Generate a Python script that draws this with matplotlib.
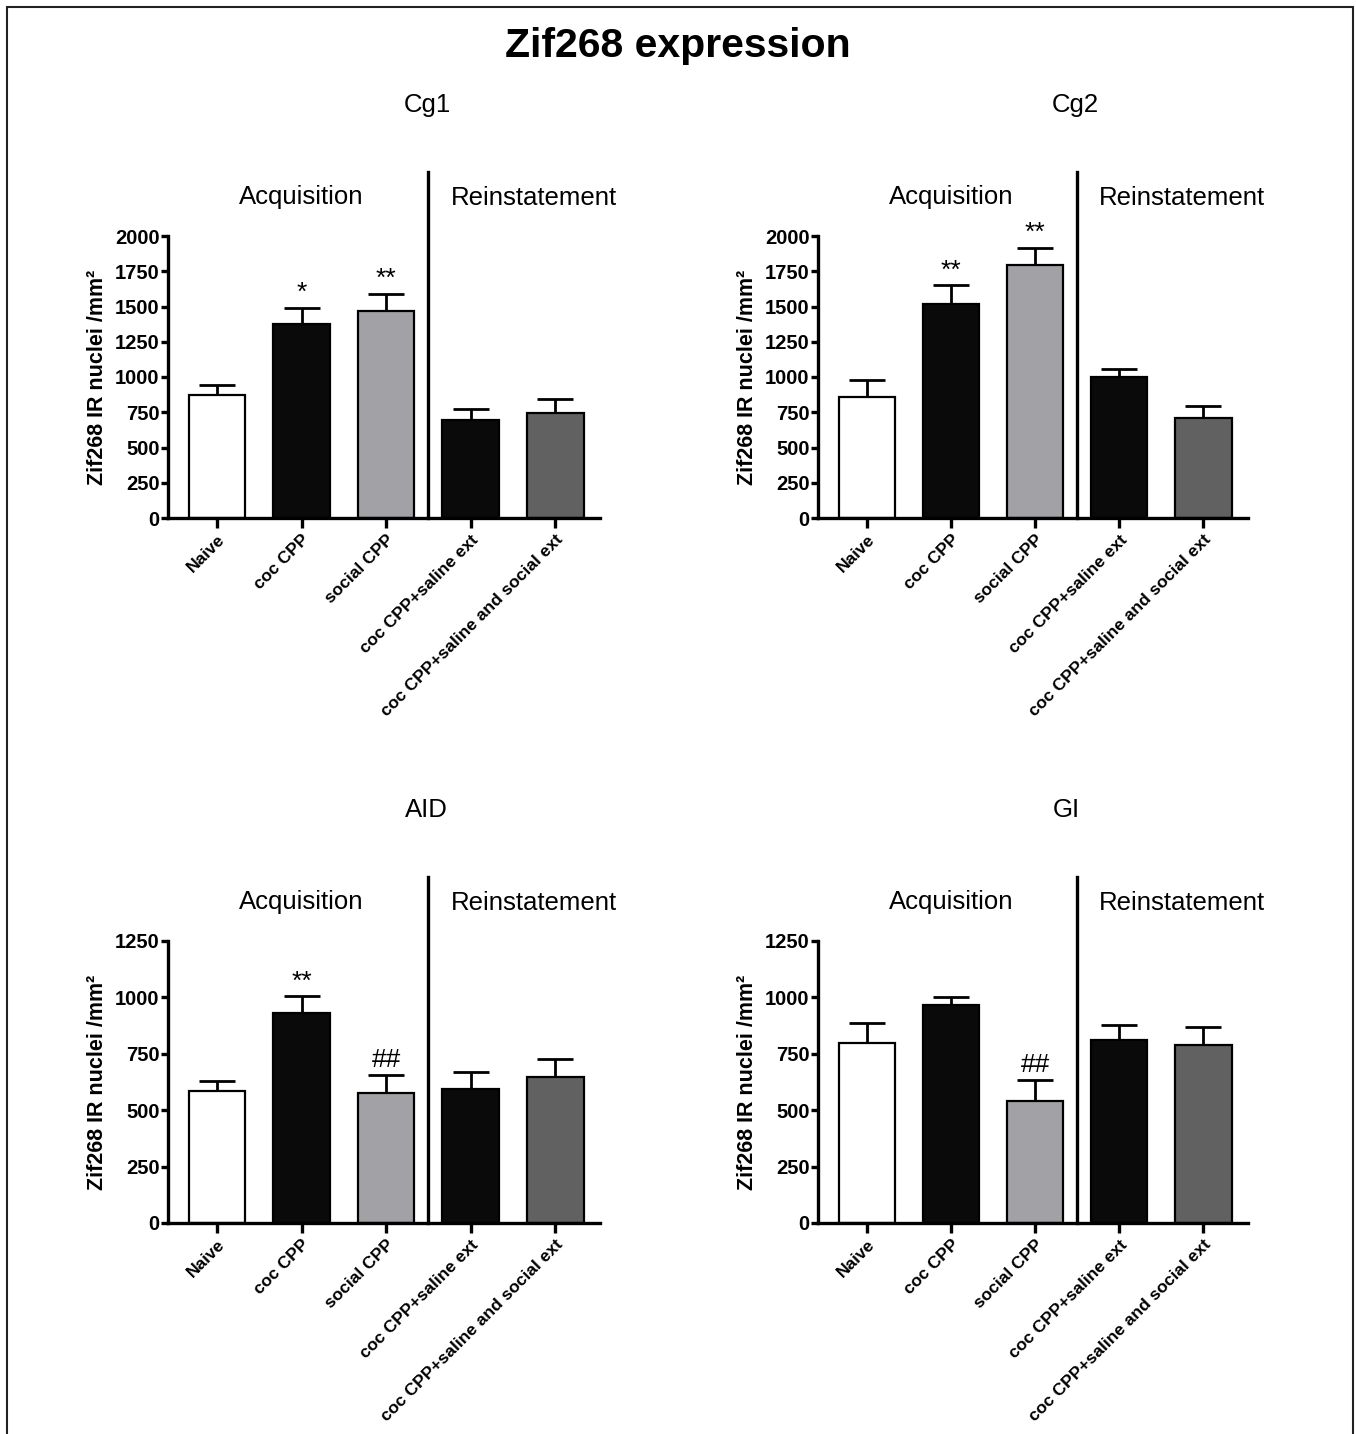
import matplotlib
matplotlib.use("Agg")
import matplotlib.pyplot as plt
from matplotlib.patches import Rectangle

plt.rcParams['font.family'] = ['Liberation Sans', 'DejaVu Sans']

# ---------------- data ----------------
categories = ["Naive", "coc CPP", "social CPP", "coc CPP+saline ext",
              "coc CPP+saline and social ext"]
bar_colors = ["#ffffff", "#0a0a0a", "#a2a2a6", "#0a0a0a", "#616161"]

regions = ["Cg1", "Cg2", "AID", "GI"]

cg1_mean = [870, 1373, 1468, 693, 745]
cg1_sem = [71, 116, 123, 82, 101]
cg1_marks = ["", "*", "**", "", ""]

cg2_mean = [858, 1520, 1797, 1000, 712]
cg2_sem = [118, 130, 118, 59, 85]
cg2_marks = ["", "**", "**", "", ""]

aid_mean = [583, 932, 575, 593, 645]
aid_sem = [47, 72, 80, 76, 83]
aid_marks = ["", "**", "##", "", ""]

gi_mean = [800, 966, 541, 811, 791]
gi_sem = [86, 34, 94, 66, 79]
gi_marks = ["", "", "##", "", ""]

ylims = [2000, 2000, 1250, 1250]
yticks_cg = [0, 250, 500, 750, 1000, 1250, 1500, 1750, 2000]
yticks_ins = [0, 250, 500, 750, 1000, 1250]

means = [cg1_mean, cg2_mean, aid_mean, gi_mean]
sems = [cg1_sem, cg2_sem, aid_sem, gi_sem]
marks = [cg1_marks, cg2_marks, aid_marks, gi_marks]
ytick_sets = [yticks_cg, yticks_cg, yticks_ins, yticks_ins]

# ---------------- figure ----------------
W, H = 1356, 1434
fig = plt.figure(figsize=(W / 100, H / 100), dpi=100)

def fx(px):
    return px / W

def fy(py):
    return 1 - py / H

# frame around the figure
fig.patches.append(Rectangle((fx(7), fy(1440)), fx(1353) - fx(7), fy(7) - fy(1440),
                             transform=fig.transFigure, fill=False,
                             edgecolor="#222222", linewidth=1.5))

fig.text(fx(678), fy(46), "Zif268 expression", ha="center", va="center",
         fontsize=29.5, fontweight="bold")

# axes placement in pixels: (left, right, top, bottom)
boxes = [(168, 600, 236, 518), (818, 1248, 236, 518),
         (168, 600, 941, 1223), (818, 1248, 941, 1223)]
title_pos = [(427, 105), (1075, 105), (426, 810), (1066, 810)]

x = list(range(len(categories)))

for i in range(4):
    l, r, t, b = boxes[i]
    ax = fig.add_axes([fx(l), fy(b), fx(r) - fx(l), fy(t) - fy(b)])
    ax.bar(x, means[i], width=0.67, color=bar_colors, edgecolor="black",
           linewidth=1.6, zorder=2)
    ax.errorbar(x, means[i], yerr=[[0] * 5, sems[i]], fmt="none",
                ecolor="black", elinewidth=2.0, capsize=13, capthick=2.0,
                zorder=1)
    for xi, (m, s, mk) in enumerate(zip(means[i], sems[i], marks[i])):
        if mk:
            ax.annotate(mk, (xi, m + s), xytext=(0, 2), textcoords="offset points",
                        ha="center", va="bottom", fontsize=19)
    ax.set_xlim(-0.58, 4.53)
    ax.set_ylim(0, ylims[i])
    ax.set_yticks(ytick_sets[i])
    ax.set_yticklabels([str(v) for v in ytick_sets[i]], fontsize=14.5,
                       fontweight="bold")
    ax.set_xticks(x)
    ax.set_xticklabels(categories, rotation=45, ha="right",
                       rotation_mode="anchor", fontsize=12.5, fontweight="bold")
    for sp in ["top", "right"]:
        ax.spines[sp].set_visible(False)
    for sp in ["left", "bottom"]:
        ax.spines[sp].set_linewidth(2.4)
    ax.tick_params(axis="both", width=2.4, length=5, pad=1)
    ax.tick_params(axis="x", length=7, pad=3)
    ax.set_ylabel("Zif268 IR nuclei /mm²", fontsize=15.5, fontweight="bold",
                  labelpad=5)
    ax.patch.set_alpha(0)
    # divider between phases
    ax.axvline(2.5, ymin=0, ymax=1.227, color="black", linewidth=2.4,
               clip_on=False)
    ax.text(1.0, 1.14, "Acquisition", transform=ax.get_xaxis_transform(),
            ha="center", va="center", fontsize=18.5)
    ax.text(3.75, 1.135, "Reinstatement", transform=ax.get_xaxis_transform(),
            ha="center", va="center", fontsize=18.5)
    tx, ty = title_pos[i]
    fig.text(fx(tx), fy(ty), regions[i], ha="center", va="center", fontsize=18.5)

fig.savefig("out.png", dpi=100, facecolor="white")
